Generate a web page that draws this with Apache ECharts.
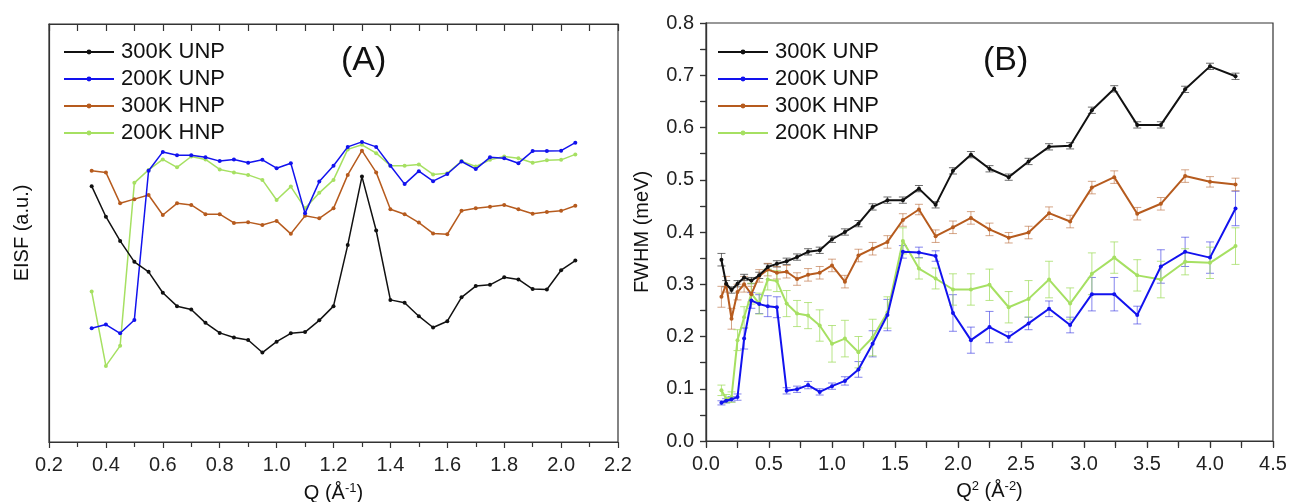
<!DOCTYPE html>
<html>
<head>
<meta charset="utf-8">
<script src="https://cdn.jsdelivr.net/npm/echarts@6/dist/echarts.min.js"></script>
<style>
html,body{margin:0;padding:0;background:#fff;}
#chart{width:1291px;height:502px;}
</style>
</head>
<body>
<div id="chart"></div>
<script>
// ---------- Panel A: EISF vs Q ----------
const qA = [0.35,0.40,0.45,0.50,0.55,0.60,0.65,0.70,0.75,0.80,0.85,0.90,0.95,1.00,1.05,1.10,1.15,1.20,1.25,1.30,1.35,1.40,1.45,1.50,1.55,1.60,1.65,1.70,1.75,1.80,1.85,1.90,1.95,2.00,2.05];
const eisf300U = [0.612,0.539,0.481,0.431,0.407,0.357,0.325,0.317,0.285,0.261,0.250,0.244,0.214,0.240,0.260,0.263,0.291,0.325,0.471,0.635,0.506,0.340,0.333,0.301,0.274,0.289,0.346,0.373,0.376,0.394,0.389,0.366,0.365,0.411,0.434];
const eisf200U = [0.272,0.281,0.260,0.292,0.649,0.694,0.686,0.686,0.681,0.672,0.676,0.668,0.675,0.655,0.667,0.547,0.623,0.661,0.706,0.718,0.706,0.661,0.617,0.648,0.624,0.641,0.671,0.653,0.681,0.679,0.667,0.696,0.696,0.697,0.716];
const eisf300H = [0.649,0.645,0.571,0.581,0.591,0.543,0.571,0.567,0.545,0.545,0.524,0.526,0.519,0.529,0.498,0.541,0.535,0.559,0.639,0.697,0.645,0.557,0.545,0.525,0.499,0.497,0.553,0.559,0.563,0.567,0.557,0.546,0.550,0.553,0.565];
const eisf200H = [0.360,0.182,0.230,0.620,0.651,0.676,0.657,0.683,0.676,0.652,0.645,0.639,0.627,0.579,0.611,0.559,0.596,0.627,0.700,0.711,0.691,0.661,0.661,0.664,0.640,0.643,0.672,0.659,0.675,0.683,0.679,0.668,0.674,0.675,0.688];

// ---------- Panel B: FWHM vs Q^2 ----------
const q2B = [0.1225,0.16,0.2025,0.25,0.3025,0.36,0.4225,0.49,0.5625,0.64,0.7225,0.81,0.9025,1.0,1.1025,1.21,1.3225,1.44,1.5625,1.69,1.8225,1.96,2.1025,2.25,2.4025,2.56,2.7225,2.89,3.0625,3.24,3.4225,3.61,3.8025,4.0,4.2025];
const fw300U = [0.347,0.301,0.289,0.301,0.313,0.307,0.317,0.333,0.339,0.344,0.352,0.362,0.365,0.386,0.400,0.416,0.448,0.461,0.461,0.483,0.452,0.517,0.548,0.521,0.505,0.535,0.563,0.565,0.633,0.674,0.605,0.605,0.673,0.717,0.698];
const er300U = [0.012,0.006,0.006,0.006,0.006,0.006,0.006,0.006,0.006,0.006,0.006,0.006,0.006,0.006,0.006,0.006,0.006,0.006,0.006,0.006,0.006,0.006,0.006,0.006,0.006,0.006,0.006,0.006,0.006,0.006,0.006,0.006,0.006,0.006,0.006];
const fw200U = [0.073,0.077,0.080,0.084,0.196,0.269,0.262,0.258,0.256,0.096,0.099,0.107,0.094,0.105,0.115,0.137,0.186,0.241,0.362,0.361,0.354,0.245,0.193,0.218,0.199,0.225,0.253,0.222,0.281,0.281,0.241,0.334,0.362,0.351,0.445];
const er200U = [0.004,0.004,0.005,0.006,0.020,0.015,0.018,0.020,0.020,0.006,0.006,0.007,0.006,0.006,0.008,0.015,0.025,0.030,0.012,0.010,0.010,0.035,0.025,0.030,0.010,0.012,0.015,0.015,0.032,0.032,0.017,0.032,0.028,0.030,0.033];
const fw300H = [0.276,0.300,0.234,0.285,0.300,0.281,0.316,0.328,0.322,0.324,0.310,0.318,0.322,0.336,0.305,0.355,0.368,0.381,0.423,0.443,0.392,0.409,0.427,0.405,0.389,0.399,0.436,0.420,0.485,0.505,0.435,0.454,0.507,0.496,0.491];
const er300H = [0.020,0.015,0.020,0.015,0.015,0.015,0.012,0.012,0.012,0.012,0.012,0.012,0.012,0.012,0.012,0.012,0.012,0.012,0.012,0.010,0.012,0.012,0.012,0.012,0.010,0.012,0.012,0.012,0.012,0.012,0.012,0.012,0.012,0.010,0.012];
const fw200H = [0.097,0.081,0.084,0.193,0.237,0.282,0.263,0.309,0.306,0.263,0.244,0.240,0.221,0.186,0.196,0.170,0.198,0.246,0.383,0.330,0.311,0.290,0.290,0.299,0.256,0.272,0.309,0.263,0.320,0.351,0.317,0.309,0.343,0.341,0.373];
const er200H = [0.010,0.008,0.010,0.020,0.020,0.020,0.020,0.020,0.020,0.025,0.025,0.025,0.030,0.035,0.035,0.030,0.035,0.030,0.025,0.020,0.020,0.030,0.030,0.030,0.030,0.035,0.035,0.030,0.040,0.030,0.030,0.035,0.025,0.030,0.035];

const seriesNames = ['300K UNP','200K UNP','300K HNP','200K HNP'];
const xTicksA = {min:0.2, max:2.2, interval:0.2};
const xTicksB = {min:0.0, max:4.5, interval:0.5};
const yTicksB = {min:0.0, max:0.8, interval:0.1};

const COLORS = ['#111111','#1212ee','#b65b1e','#a6e062'];
const ERRCOLORS = ['rgba(30,30,30,0.65)','rgba(50,50,225,0.6)','rgba(185,105,55,0.6)','rgba(160,220,95,0.75)'];
const FONT = '"Liberation Sans", Arial, sans-serif';
const AX = '#333';

function pairs(xs, ys){ return xs.map((x,i)=>[x, ys[i]]); }
function errData(xs, ys, es){ return xs.map((x,i)=>[x, ys[i]-es[i], ys[i]+es[i]]); }

function errRender(params, api){
  const x = api.value(0), lo = api.value(1), hi = api.value(2);
  const p1 = api.coord([x, lo]), p2 = api.coord([x, hi]);
  const w = 4;
  const style = {stroke: api.visual('color'), lineWidth: 1, fill: null};
  return {type:'group', children:[
    {type:'line', shape:{x1:p1[0], y1:p1[1], x2:p2[0], y2:p2[1]}, style:style},
    {type:'line', shape:{x1:p1[0]-w, y1:p1[1], x2:p1[0]+w, y2:p1[1]}, style:style},
    {type:'line', shape:{x1:p2[0]-w, y1:p2[1], x2:p2[0]+w, y2:p2[1]}, style:style}
  ]};
}

const supName = (base, sup, tail) => '{n|' + base + '}{s|' + sup + '}{n|' + tail + '}';
const nameRich = {
  n:{fontSize:20, fontFamily:FONT, color:'#111'},
  s:{fontSize:13, fontFamily:FONT, color:'#111', verticalAlign:'top', padding:[0,0,9,0]}
};

const chart = echarts.init(document.getElementById('chart'), null, {renderer:'canvas'});

const lineSeriesA = [eisf300U, eisf200U, eisf300H, eisf200H].map((ys,i)=>({
  name: seriesNames[i], type:'line', xAxisIndex:0, yAxisIndex:0,
  data: pairs(qA, ys), symbol:'circle', symbolSize:4, showSymbol:true,
  lineStyle:{color:COLORS[i], width:1.5}, itemStyle:{color:COLORS[i]},
  z: 10-i, animation:false
}));
const fwB = [fw300U, fw200U, fw300H, fw200H];
const erB = [er300U, er200U, er300H, er200H];
const errSeriesB = fwB.map((ys,i)=>({
  type:'custom', xAxisIndex:2, yAxisIndex:1, renderItem: errRender,
  data: errData(q2B, ys, erB[i]), itemStyle:{color:ERRCOLORS[i]},
  z: 3, animation:false, silent:true
}));
const lineSeriesB = fwB.map((ys,i)=>({
  name: seriesNames[i], type:'line', xAxisIndex:2, yAxisIndex:1,
  data: pairs(q2B, ys), symbol:'circle', symbolSize:4, showSymbol:true,
  lineStyle:{color:COLORS[i], width:2}, itemStyle:{color:COLORS[i]},
  z: 10-i, animation:false
}));

const axisLineStyle = {show:true, lineStyle:{color:AX, width:1.2}};
const tickStyle = {lineStyle:{color:AX, width:1.2}};

const legendCommon = {
  orient:'vertical', itemWidth:50, itemHeight:6, itemGap:5, padding:0,
  textStyle:{fontSize:22, fontFamily:FONT, color:'#111', padding:[0,0,0,2]},
  data: seriesNames, selectedMode:false
};

chart.setOption({
  animation:false,
  backgroundColor:'#ffffff',
  grid:[
    {left:49, top:24, width:569, height:418, show:true, borderColor:AX, borderWidth:1.2, backgroundColor:'transparent', outerBoundsMode:'none', containLabel:false},
    {left:706, top:23, width:567, height:418, show:true, borderColor:AX, borderWidth:1.2, backgroundColor:'transparent', outerBoundsMode:'none', containLabel:false}
  ],
  xAxis:[
    {gridIndex:0, type:'value', position:'bottom', min:xTicksA.min, max:xTicksA.max, interval:xTicksA.interval,
     axisLine:axisLineStyle, axisTick:Object.assign({show:true, length:6, inside:false}, tickStyle),
     minorTick:Object.assign({show:true, splitNumber:2, length:5}, tickStyle),
     axisLabel:{show:true, fontSize:20, fontFamily:FONT, color:'#222', margin:13, formatter:v=>v.toFixed(1)},
     splitLine:{show:false}, minorSplitLine:{show:false},
     name: supName('Q (Å','-1',')'), nameLocation:'middle', nameGap:40,
     nameTextStyle:{rich:nameRich}},
    {gridIndex:0, type:'value', position:'top', min:xTicksA.min, max:xTicksA.max, interval:xTicksA.interval,
     axisLine:axisLineStyle, axisTick:Object.assign({show:true, length:7, inside:true}, tickStyle),
     minorTick:Object.assign({show:true, splitNumber:2, length:7}, tickStyle),
     axisLabel:{show:false}, splitLine:{show:false}},
    {gridIndex:1, type:'value', position:'bottom', min:xTicksB.min, max:xTicksB.max, interval:xTicksB.interval,
     axisLine:axisLineStyle, axisTick:Object.assign({show:true, length:6, inside:false}, tickStyle),
     minorTick:Object.assign({show:true, splitNumber:2, length:5}, tickStyle),
     axisLabel:{show:true, fontSize:20, fontFamily:FONT, color:'#222', margin:13, formatter:v=>v.toFixed(1)},
     splitLine:{show:false}, minorSplitLine:{show:false},
     name: '{n|Q}{s|2}{n| (Å}{s|-2}{n|)}', nameLocation:'middle', nameGap:39,
     nameTextStyle:{rich:nameRich}},
    {gridIndex:1, type:'value', position:'top', min:xTicksB.min, max:xTicksB.max, interval:xTicksB.interval,
     axisLine:axisLineStyle, axisTick:Object.assign({show:true, length:7, inside:true}, tickStyle),
     minorTick:Object.assign({show:true, splitNumber:2, length:7}, tickStyle),
     axisLabel:{show:false}, splitLine:{show:false}}
  ],
  yAxis:[
    {gridIndex:0, type:'value', position:'left', min:0, max:1,
     axisLine:axisLineStyle, axisTick:{show:false}, axisLabel:{show:false}, splitLine:{show:false},
     name:'EISF (a.u.)', nameLocation:'middle', nameGap:17,
     nameTextStyle:{fontSize:20, fontFamily:FONT, color:'#111'}},
    {gridIndex:1, type:'value', position:'left', min:yTicksB.min, max:yTicksB.max, interval:yTicksB.interval,
     axisLine:axisLineStyle, axisTick:Object.assign({show:true, length:6, inside:false}, tickStyle),
     minorTick:Object.assign({show:true, splitNumber:2, length:5}, tickStyle),
     axisLabel:{show:true, fontSize:20, fontFamily:FONT, color:'#222', margin:12, formatter:v=>v.toFixed(1)},
     splitLine:{show:false}, minorSplitLine:{show:false},
     name:'FWHM (meV)', nameLocation:'middle', nameGap:54,
     nameTextStyle:{fontSize:20, fontFamily:FONT, color:'#111'}},
    {gridIndex:1, type:'value', position:'right', min:yTicksB.min, max:yTicksB.max, interval:yTicksB.interval,
     axisLine:axisLineStyle, axisTick:Object.assign({show:true, length:6, inside:true}, tickStyle),
     minorTick:Object.assign({show:true, splitNumber:2, length:6}, tickStyle),
     axisLabel:{show:false}, splitLine:{show:false}}
  ],
  legend:[
    Object.assign({left:63, top:41}, legendCommon),
    Object.assign({left:717, top:41}, legendCommon)
  ],
  graphic:[
    {type:'text', left:341, top:44, style:{text:'(A)', fontSize:34, fontFamily:FONT, fill:'#111'}},
    {type:'text', left:983, top:44, style:{text:'(B)', fontSize:34, fontFamily:FONT, fill:'#111'}}
  ],
  series: [].concat(lineSeriesA, errSeriesB, lineSeriesB)
});
</script>
</body>
</html>
